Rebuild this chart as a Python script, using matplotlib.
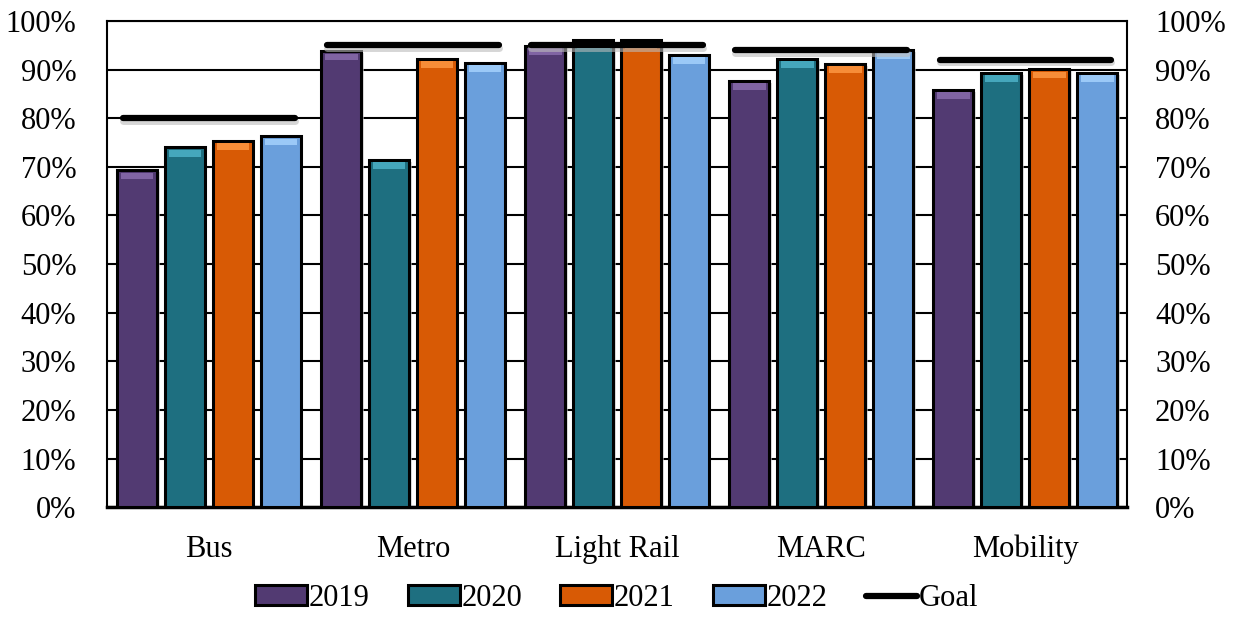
import matplotlib.pyplot as plt
import numpy as np
from matplotlib.ticker import PercentFormatter

categories = ["Bus", "Metro", "Light Rail", "MARC", "Mobility"]
years = ["2019", "2020", "2021", "2022"]
v2019 = [69.3, 93.8, 94.9, 87.7, 85.8]
v2020 = [74.0, 71.4, 96.1, 92.2, 89.3]
v2021 = [75.3, 92.2, 96.1, 91.2, 90.1]
v2022 = [76.3, 91.4, 93.0, 94.0, 89.3]
goal = [80, 95, 95, 94, 92]

colors = ["#523a72", "#1e6f80", "#d85a05", "#6a9fdc"]
tops = ["#8c6fb0", "#4fb6cc", "#ff9a45", "#a8d4ff"]

plt.rcParams["font.family"] = ["Liberation Serif", "DejaVu Serif"]

fig = plt.figure(figsize=(12.34, 6.17), dpi=100)
ax = fig.add_axes([0.0867, 0.178, 0.8268, 0.788])

x = np.arange(len(categories))
w = 0.196
pitch = 0.235
series = [v2019, v2020, v2021, v2022]

for i, vals in enumerate(series):
    pos = x + (i - 1.5) * pitch
    vals = np.array(vals)
    # soft drop shadow
    ax.bar(pos + 0.012, vals, w, bottom=-0.4, color="#c8c8c8", zorder=2, alpha=0.6)
    ax.bar(pos, vals, w, color=colors[i], edgecolor="black", linewidth=2.2, zorder=3,
           label=years[i])
    # bevel highlight along the top
    ax.bar(pos, np.full(len(vals), 1.4), w * 0.82, bottom=vals - 1.9,
           color=tops[i], zorder=4, alpha=0.8)

for j, g in enumerate(goal):
    ax.plot([x[j] - 0.42, x[j] + 0.42], [g - 0.5, g - 0.5], color="#bbbbbb",
            lw=5, solid_capstyle="round", zorder=4, alpha=0.6)
    ax.plot([x[j] - 0.42, x[j] + 0.42], [g, g], color="black", lw=4.5,
            solid_capstyle="round", zorder=5, label="Goal" if j == 0 else None)

ax.set_xlim(-0.5, len(categories) - 0.5)
ax.set_ylim(0, 100)
ax.set_yticks(np.arange(0, 101, 10))
ax.yaxis.set_major_formatter(PercentFormatter(decimals=0))
ax.grid(axis="y", color="black", linewidth=1.5, zorder=0)
ax.set_axisbelow(True)
ax.set_xticks(x)
ax.set_xticklabels(categories)
ax.tick_params(axis="x", length=0, pad=20, labelsize=22)
ax.tick_params(axis="y", length=0, pad=22, labelsize=22)
for s in ax.spines.values():
    s.set_linewidth(1.5)
ax.spines["bottom"].set_linewidth(2.5)

ax2 = ax.twinx()
ax2.set_ylim(0, 100)
ax2.set_yticks(np.arange(0, 101, 10))
ax2.yaxis.set_major_formatter(PercentFormatter(decimals=0))
ax2.tick_params(axis="y", length=0, pad=20, labelsize=22)
for s in ax2.spines.values():
    s.set_visible(False)

h, l = ax.get_legend_handles_labels()
order = [l.index(y) for y in years] + [l.index("Goal")]
fig.legend([h[k] for k in order], [l[k] for k in order], loc="center",
           bbox_to_anchor=(0.5, 0.03), ncol=5, frameon=False, fontsize=22,
           handlelength=1.7, handleheight=0.62, handletextpad=0.05, columnspacing=1.25,
           borderaxespad=0, borderpad=0)

fig.savefig("out.png", dpi=100)
